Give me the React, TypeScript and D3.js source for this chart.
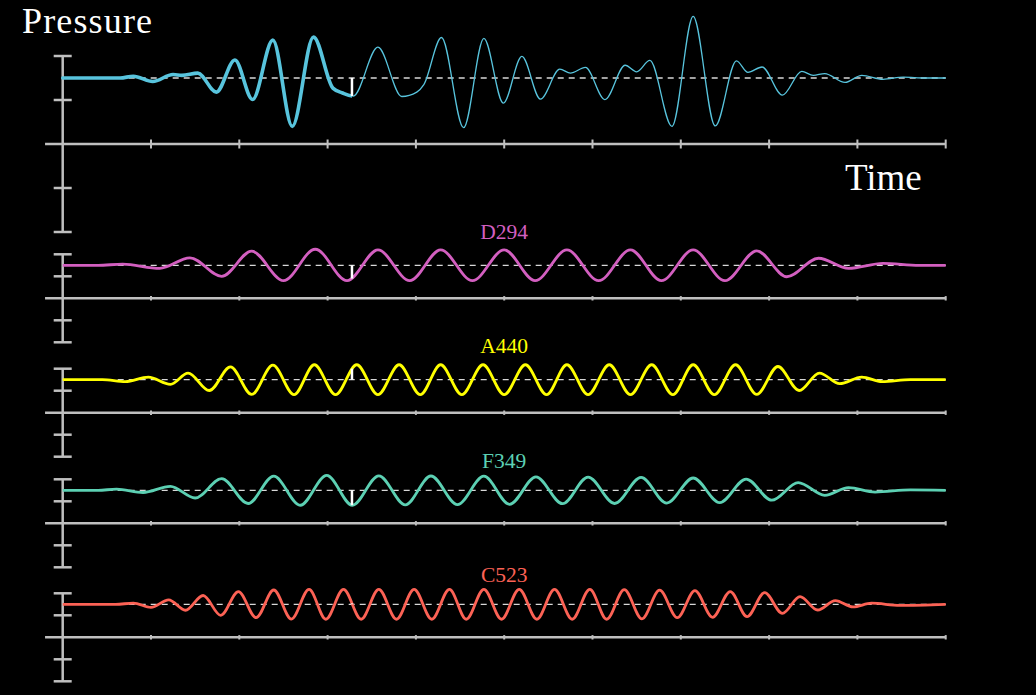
import React, { useEffect, useRef } from 'react';
import * as d3 from 'd3';

const W = 1036;
const H = 695;

// ---- axis ticks ----
const timeTicks = [1, 2, 3, 4, 5, 6, 7, 8, 9, 10];
const pressureTicks = [-2, -1, 1, 2];
const restLevel = 1.5;
const markerTime = 3.276;

// ---- combined pressure signal (time, offset from rest level) ----
const pressureTimes = [0, 0.65, 0.8, 1.02, 1.25, 1.35, 1.53, 1.74, 1.95, 2.15, 2.38, 2.6, 2.84, 3.06, 3.17, 3.29, 3.57, 3.84, 4.01, 4.09, 4.29, 4.54, 4.77, 4.99, 5.2, 5.41, 5.63, 5.75, 5.92, 6.14, 6.37, 6.5, 6.65, 6.9, 7.14, 7.39, 7.63, 7.76, 7.92, 8.15, 8.37, 8.5, 8.63, 8.86, 9.05, 9.29, 9.52, 9.77, 10];
const pressureValues = [0, 0, 0.04, -0.08, 0.08, 0.06, 0.11, -0.32, 0.41, -0.49, 0.86, -1.1, 0.93, -0.23, -0.34, -0.41, 0.7, -0.42, -0.32, -0.15, 0.92, -1.13, 0.9, -0.57, 0.49, -0.48, 0.2, 0.11, 0.24, -0.49, 0.29, 0.14, 0.4, -1.1, 1.4, -1.09, 0.39, 0.13, 0.25, -0.39, 0.15, 0.06, 0.1, -0.1, 0.06, -0.03, 0.02, 0, 0];

// ---- D294 ----
const d294Times = [0, 0.4, 0.68, 1.1, 1.44, 1.8, 2.14, 2.5, 2.86, 3.22, 3.57, 3.93, 4.28, 4.64, 5.0, 5.35, 5.71, 6.07, 6.43, 6.78, 7.14, 7.5, 7.86, 8.2, 8.56, 8.9, 9.29, 9.7, 10];
const d294Values = [0, 0, 0.05, -0.14, 0.34, -0.5, 0.64, -0.7, 0.73, -0.7, 0.7, -0.7, 0.7, -0.7, 0.7, -0.7, 0.7, -0.7, 0.7, -0.7, 0.7, -0.7, 0.66, -0.52, 0.32, -0.14, 0.09, 0, 0];

// ---- A440 ----
const a440Times = [0, 0.45, 0.71, 0.97, 1.22, 1.42, 1.66, 1.9, 2.14, 2.38, 2.62, 2.85, 3.09, 3.33, 3.57, 3.81, 4.05, 4.28, 4.52, 4.76, 5.0, 5.24, 5.48, 5.71, 5.95, 6.19, 6.43, 6.67, 6.91, 7.14, 7.38, 7.62, 7.86, 8.1, 8.34, 8.57, 8.8, 9.05, 9.28, 9.6, 10];
const a440Values = [0, 0, -0.09, 0.12, -0.21, 0.3, -0.49, 0.58, -0.67, 0.66, -0.68, 0.68, -0.68, 0.68, -0.68, 0.68, -0.68, 0.68, -0.68, 0.68, -0.68, 0.68, -0.68, 0.68, -0.68, 0.68, -0.68, 0.68, -0.68, 0.68, -0.68, 0.68, -0.67, 0.6, -0.49, 0.3, -0.18, 0.12, -0.09, 0, 0];

// ---- F349 ----
const f349Times = [0, 0.4, 0.61, 0.91, 1.22, 1.5, 1.8, 2.1, 2.39, 2.69, 2.99, 3.28, 3.58, 3.88, 4.17, 4.47, 4.77, 5.06, 5.36, 5.66, 5.95, 6.25, 6.55, 6.84, 7.14, 7.44, 7.74, 8.03, 8.33, 8.63, 8.9, 9.2, 9.6, 10];
const f349Values = [0, 0, 0.05, -0.1, 0.18, -0.35, 0.53, -0.6, 0.64, -0.68, 0.68, -0.68, 0.66, -0.66, 0.65, -0.65, 0.64, -0.64, 0.61, -0.61, 0.6, -0.6, 0.59, -0.58, 0.56, -0.56, 0.51, -0.45, 0.35, -0.23, 0.12, -0.08, 0.02, 0];

// ---- C523 ----
const c523Times = [0, 0.6, 0.8, 1.0, 1.2, 1.39, 1.59, 1.79, 1.99, 2.19, 2.39, 2.59, 2.79, 2.98, 3.18, 3.38, 3.58, 3.78, 3.98, 4.18, 4.38, 4.57, 4.77, 4.97, 5.17, 5.37, 5.57, 5.77, 5.97, 6.16, 6.36, 6.56, 6.76, 6.96, 7.16, 7.36, 7.56, 7.75, 7.95, 8.15, 8.35, 8.55, 8.75, 8.95, 9.16, 9.48, 10];
const c523Values = [0, 0, 0.05, -0.14, 0.2, -0.27, 0.4, -0.5, 0.58, -0.61, 0.65, -0.67, 0.68, -0.68, 0.68, -0.68, 0.68, -0.68, 0.68, -0.68, 0.68, -0.68, 0.68, -0.68, 0.68, -0.68, 0.68, -0.68, 0.68, -0.68, 0.67, -0.66, 0.64, -0.61, 0.62, -0.59, 0.58, -0.56, 0.53, -0.41, 0.35, -0.26, 0.17, -0.12, 0.05, -0.05, 0];

// ---- labels ----
const noteLabels = ['D294', 'A440', 'F349', 'C523'];
const noteColors = ['#D35FC0', '#FFFF00', '#5CD0B3', '#FC6255'];

// ---- layout (not data) ----
const panelAxisY = [144, 298.3, 412.7, 523.3, 637.3];
const panelUnit = [44, 22, 22, 22, 22];
const labelBaseline = [239, 353.3, 468.3, 581.7];

function yAtX(node: SVGPathElement, targetX: number): number {
  const L = node.getTotalLength();
  let lo = 0;
  let hi = L;
  for (let i = 0; i < 40; i++) {
    const mid = (lo + hi) / 2;
    const p = node.getPointAtLength(mid);
    if (p.x < targetX) lo = mid;
    else hi = mid;
  }
  return node.getPointAtLength((lo + hi) / 2).y;
}

export default function App() {
  const ref = useRef<SVGSVGElement>(null);

  useEffect(() => {
    const svg = d3.select(ref.current);
    svg.selectAll('*').remove();
    svg.append('rect').attr('width', W).attr('height', H).attr('fill', '#000');

    const x = d3.scaleLinear().domain([0, 10]).range([62.7, 945.7]);
    const axisColor = '#bfbfbf';
    const serif = "'Liberation Serif', 'Times New Roman', serif";

    const series = [
      { times: pressureTimes, values: pressureValues, color: '#58C4DD' },
      { times: d294Times, values: d294Values, color: noteColors[0] },
      { times: a440Times, values: a440Values, color: noteColors[1] },
      { times: f349Times, values: f349Values, color: noteColors[2] },
      { times: c523Times, values: c523Values, color: noteColors[3] },
    ];

    const defs = svg.append('defs');
    defs.append('clipPath').attr('id', 'clipLeft')
      .append('rect').attr('x', 0).attr('y', 0).attr('width', x(markerTime)).attr('height', H);
    defs.append('clipPath').attr('id', 'clipRight')
      .append('rect').attr('x', x(markerTime)).attr('y', 0).attr('width', W).attr('height', H);

    series.forEach((s, i) => {
      const axisY = panelAxisY[i];
      const u = panelUnit[i];
      const y = d3.scaleLinear().domain([-2, 2]).range([axisY + 2 * u, axisY - 2 * u]);
      const g = svg.append('g');
      const isMain = i === 0;

      // horizontal time axis
      g.append('line')
        .attr('x1', x(-0.2)).attr('x2', x(10))
        .attr('y1', y(0)).attr('y2', y(0))
        .attr('stroke', axisColor).attr('stroke-width', 2.5);
      const th = isMain ? 4.5 : 2.2;
      g.selectAll('.xt').data(timeTicks).enter().append('line')
        .attr('x1', (d) => x(d)).attr('x2', (d) => x(d))
        .attr('y1', y(0) - th).attr('y2', y(0) + th)
        .attr('stroke', axisColor).attr('stroke-width', 2);

      // vertical pressure axis
      g.append('line')
        .attr('x1', x(0)).attr('x2', x(0))
        .attr('y1', y(2)).attr('y2', y(-2))
        .attr('stroke', axisColor).attr('stroke-width', 2.5);
      g.selectAll('.yt').data(pressureTicks).enter().append('line')
        .attr('x1', x(0) - 9).attr('x2', x(0) + 9)
        .attr('y1', (d) => y(d)).attr('y2', (d) => y(d))
        .attr('stroke', axisColor).attr('stroke-width', 2.5);

      // dashed rest level
      g.append('line')
        .attr('x1', x(0)).attr('x2', x(10))
        .attr('y1', y(restLevel)).attr('y2', y(restLevel))
        .attr('stroke', '#d8d8d8').attr('stroke-width', 1.3)
        .attr('stroke-dasharray', '6,5');

      const pts: [number, number][] = s.times.map((t, k) => [t, restLevel + s.values[k]]);
      const line = d3.line<[number, number]>()
        .x((d) => x(d[0]))
        .y((d) => y(d[1]))
        .curve(d3.curveMonotoneX);

      let fullPath: SVGPathElement;
      if (isMain) {
        g.append('path').attr('d', line(pts) as string)
          .attr('fill', 'none').attr('stroke', s.color).attr('stroke-width', 3.6)
          .attr('stroke-linejoin', 'round').attr('stroke-linecap', 'round')
          .attr('clip-path', 'url(#clipLeft)');
        fullPath = g.append('path').attr('d', line(pts) as string)
          .attr('fill', 'none').attr('stroke', s.color).attr('stroke-width', 1.3)
          .attr('clip-path', 'url(#clipRight)').node() as SVGPathElement;
      } else {
        fullPath = g.append('path').attr('d', line(pts) as string)
          .attr('fill', 'none').attr('stroke', s.color).attr('stroke-width', 2.8)
          .attr('stroke-linejoin', 'round').node() as SVGPathElement;
      }

      // marker from rest level to curve
      const mx = x(markerTime);
      const my = yAtX(fullPath, mx);
      g.append('line')
        .attr('x1', mx).attr('x2', mx)
        .attr('y1', y(restLevel)).attr('y2', my)
        .attr('stroke', '#ffffff').attr('stroke-width', 2.5);

      if (!isMain) {
        g.append('text')
          .attr('x', x(5)).attr('y', labelBaseline[i - 1])
          .attr('text-anchor', 'middle')
          .attr('fill', s.color)
          .attr('font-family', serif)
          .attr('font-size', 21.5)
          .text(noteLabels[i - 1]);
      }
    });

    svg.append('text')
      .attr('x', 22).attr('y', 33)
      .attr('fill', '#ffffff')
      .attr('font-family', serif)
      .attr('font-size', 36)
      .attr('textLength', 130)
      .attr('lengthAdjust', 'spacing')
      .text('Pressure');

    svg.append('text')
      .attr('x', 845).attr('y', 190)
      .attr('fill', '#ffffff')
      .attr('font-family', serif)
      .attr('font-size', 37)
      .text('Time');
  }, []);

  return (
    <svg
      ref={ref}
      width={W}
      height={H}
      style={{ position: 'fixed', left: 0, top: 0, display: 'block', background: '#000' }}
    />
  );
}
